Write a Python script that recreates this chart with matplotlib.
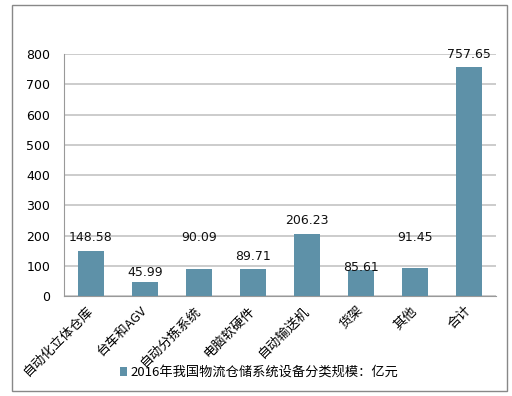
import numpy as np
import matplotlib.pyplot as plt
from matplotlib.patches import Rectangle

plt.rcParams['font.family'] = ['Noto Sans CJK SC', 'DejaVu Sans']

categories = ['自动化立体仓库', '台车和AGV', '自动分拣系统', '电脑软硬件',
              '自动输送机', '货架', '其他', '合计']
values = [148.58, 45.99, 90.09, 89.71, 206.23, 85.61, 91.45, 757.65]
series_name = '2016年我国物流仓储系统设备分类规模：亿元'
bar_color = '#5E91A8'

# where the source put each value label (data units, text centre)
label_y = [192, 79, 192, 132, 251, 93, 195, 800]

fig = plt.figure(figsize=(5.12, 3.96), dpi=100)
ax = fig.add_axes([0.125, 0.2525, 0.844, 0.611])

x = np.arange(len(categories))
bars = ax.bar(x, values, width=0.48, color=bar_color, label=series_name, zorder=3)
for xi, v, ly in zip(x, values, label_y):
    ax.text(xi, ly, f'{v:.2f}', ha='center', va='center', fontsize=9,
            family='DejaVu Sans', color='#111111', zorder=4)

ax.set_ylim(0, 800)
ax.set_xlim(-0.5, len(categories) - 0.5)
ax.set_yticks(np.arange(0, 801, 100))
ax.yaxis.grid(True, color='#BFBFBF', linewidth=1.1, zorder=0)
ax.tick_params(axis='y', length=0, labelsize=9, pad=10)
ax.tick_params(axis='x', length=0, labelsize=9.5, pad=9)
for lab in ax.get_yticklabels():
    lab.set_family('DejaVu Sans')
ax.set_xticks(x)
ax.set_xticklabels(categories, rotation=45, ha='right', va='center',
                   rotation_mode='anchor')
for s in ['top', 'right']:
    ax.spines[s].set_visible(False)
for s in ['left', 'bottom']:
    ax.spines[s].set_color('#999999')

fig.legend(handles=[bars], labels=[series_name], loc='center',
           bbox_to_anchor=(0.506, 0.06), frameon=False, fontsize=9.5,
           handlelength=0.6, handleheight=0.7, handletextpad=0.25)

fig.patches.append(Rectangle((12 / 512, 1 - 391 / 396), 495 / 512, 386 / 396,
                             transform=fig.transFigure, fill=False,
                             edgecolor='#888888', linewidth=1))

fig.savefig('out.png', dpi=100)
